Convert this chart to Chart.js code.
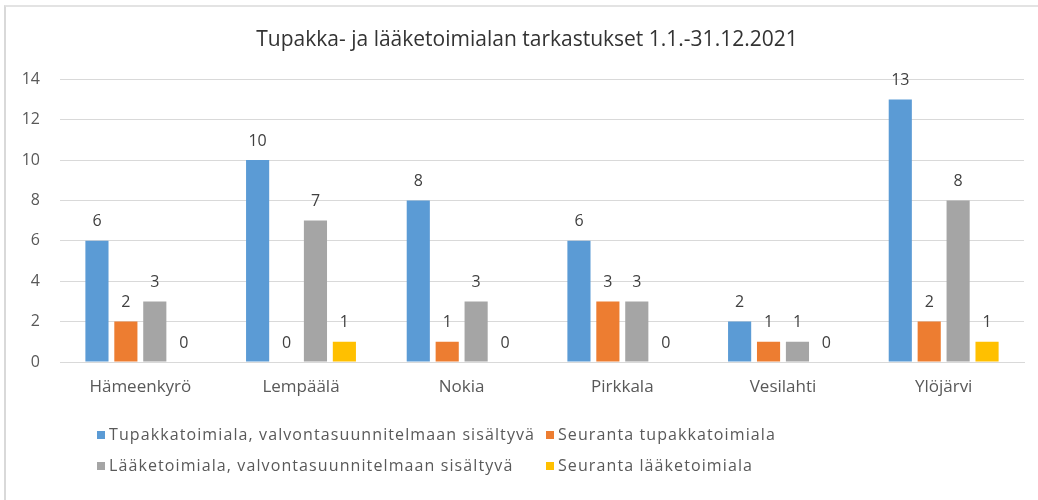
<!DOCTYPE html>
<html>
<head>
<meta charset="utf-8">
<script src="https://cdn.jsdelivr.net/npm/chart.js@4.4.1/dist/chart.umd.min.js"></script>
<style>
  html, body { margin: 0; padding: 0; background: #fff; }
  #wrap { position: relative; width: 1038px; height: 500px; box-sizing: border-box; }
  #frame { position: absolute; left: 4px; top: 5px; right: 0; bottom: 0; border-left: 2px solid #d9d9d9; border-top: 2px solid #e3e3e3; pointer-events: none; }
  canvas { display: block; }
</style>
</head>
<body>
<div id="wrap">
  <canvas id="c" width="1038" height="500"></canvas>
  <div id="frame"></div>
</div>
<script>
const categories = ['Hämeenkyrö', 'Lempäälä', 'Nokia', 'Pirkkala', 'Vesilahti', 'Ylöjärvi'];
const seriesNames = [
  'Tupakkatoimiala, valvontasuunnitelmaan sisältyvä',
  'Seuranta tupakkatoimiala',
  'Lääketoimiala, valvontasuunnitelmaan sisältyvä',
  'Seuranta lääketoimiala'
];
const tupakkaValvonta = [6, 10, 8, 6, 2, 13];
const seurantaTupakka = [2, 0, 1, 3, 1, 2];
const laakeValvonta = [3, 7, 3, 3, 1, 8];
const seurantaLaake = [0, 1, 0, 0, 0, 1];
const yTicks = [0, 2, 4, 6, 8, 10, 12, 14];
const colors = ['#5B9BD5', '#ED7D31', '#A5A5A5', '#FFC000'];
const titleText = 'Tupakka- ja lääketoimialan tarkastukset 1.1.-31.12.2021';

const FONT = "'Open Sans', 'DejaVu Sans', sans-serif";

const valueLabels = {
  id: 'valueLabels',
  afterDatasetsDraw(chart) {
    const ctx = chart.ctx;
    ctx.save();
    ctx.font = '16px ' + FONT;
    ctx.fillStyle = '#404040';
    ctx.textAlign = 'center';
    ctx.textBaseline = 'middle';
    chart.data.datasets.forEach((ds, i) => {
      const meta = chart.getDatasetMeta(i);
      meta.data.forEach((bar, j) => {
        ctx.fillText(String(ds.data[j]), bar.x, bar.y - 19);
      });
    });
    ctx.restore();
  }
};

const gridLegend = {
  id: 'gridLegend',
  afterDraw(chart) {
    const ctx = chart.ctx;
    const cols = [97, 546];
    const rows = [435, 466];
    ctx.save();
    ctx.font = '16px ' + FONT;
    if ('letterSpacing' in ctx) ctx.letterSpacing = '1.1px';
    ctx.textBaseline = 'middle';
    ctx.textAlign = 'left';
    chart.data.datasets.forEach((ds, i) => {
      const x = cols[i % 2];
      const y = rows[Math.floor(i / 2)];
      ctx.fillStyle = ds.backgroundColor;
      ctx.fillRect(x, y - 4, 8, 8);
      ctx.fillStyle = '#595959';
      ctx.fillText(ds.label, x + 12, y);
    });
    ctx.restore();
  }
};

const shiftTitle = {
  id: 'shiftTitle',
  afterLayout(chart) {
    const t = chart.titleBlock;
    if (t) { t.left = 30; t.right = 1024; t.width = t.right - t.left; }
  }
};

const datasets = [tupakkaValvonta, seurantaTupakka, laakeValvonta, seurantaLaake].map((d, i) => ({
  label: seriesNames[i],
  data: d,
  backgroundColor: colors[i],
  borderWidth: 0,
  barPercentage: 0.8,
  categoryPercentage: 0.72
}));

new Chart(document.getElementById('c'), {
  type: 'bar',
  data: { labels: categories, datasets },
  plugins: [valueLabels, gridLegend, shiftTitle],
  options: {
    responsive: false,
    animation: false,
    devicePixelRatio: 1,
    layout: { padding: { left: 0, right: 14, top: 0, bottom: 98 } },
    plugins: {
      legend: { display: false },
      tooltip: { enabled: false },
      title: {
        display: true,
        text: titleText,
        color: '#333333',
        font: { family: FONT, size: 21, weight: 'normal' },
        padding: { top: 27, bottom: 27 }
      }
    },
    scales: {
      x: {
        grid: { display: false, drawTicks: false },
        border: { display: true, color: '#d9d9d9' },
        ticks: { color: '#595959', font: { family: FONT, size: 17 }, padding: 15, maxRotation: 0 },
        afterFit(scale) { scale.height = 40; }
      },
      y: {
        min: 0, max: 14,
        afterBuildTicks(scale) { scale.ticks = yTicks.map(v => ({ value: v })); },
        grid: { color: '#d9d9d9', drawTicks: false },
        border: { display: false },
        ticks: { color: '#595959', font: { family: FONT, size: 16 }, padding: 20 },
        afterFit(scale) { scale.width = 60; }
      }
    }
  }
});
</script>
</body>
</html>
